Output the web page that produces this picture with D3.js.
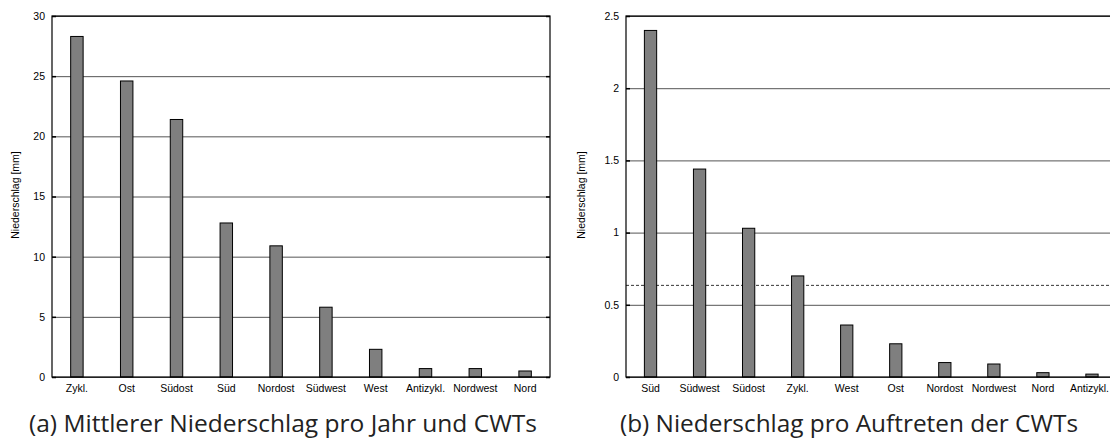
<!DOCTYPE html>
<meta charset="utf-8">
<style>
body { margin: 0; background: #fff; }
.tick text, .ylabel { font: 10.5px "Liberation Sans", Arial, sans-serif; fill: #000; }
.grid line { stroke: #555; stroke-width: 1; }
.grid .domain, .axis .domain { display: none; }
.caption { font: 23px "Open Sans", "DejaVu Sans", sans-serif; fill: #222; }
</style>
<svg width="1110" height="441"></svg>
<script src="https://d3js.org/d3.v7.min.js"></script>
<script>

// (a) mittlerer Niederschlag pro Jahr
var catsA = ["Zykl.", "Ost", "Südost", "Süd", "Nordost", "Südwest", "West", "Antizykl.", "Nordwest", "Nord"];
var valsA = [28.3, 24.6, 21.4, 12.8, 10.9, 5.8, 2.3, 0.7, 0.7, 0.5];
var ticksA = [0, 5, 10, 15, 20, 25, 30];

// (b) Niederschlag pro Auftreten
var catsB = ["Süd", "Südwest", "Südost", "Zykl.", "West", "Ost", "Nordost", "Nordwest", "Nord", "Antizykl."];
var valsB = [2.4, 1.44, 1.03, 0.70, 0.36, 0.23, 0.10, 0.09, 0.03, 0.02];
var ticksB = [0, 0.5, 1, 1.5, 2, 2.5];
var meanB = 0.638;

var svg = d3.select("svg"),
    width = +svg.attr("width");

function panel(cats, vals, ticks, x0, x1, labelX, mean) {
  var g = svg.append("g");
  var top = 16, bottom = 377;

  var x = d3.scaleBand()
      .domain(cats)
      .range([x0, x1])
      .paddingInner(0.75)
      .paddingOuter(0.375);

  var y = d3.scaleLinear()
      .domain([0, d3.max(ticks)])
      .range([bottom, top]);

  // grid lines
  g.append("g")
      .attr("class", "grid")
      .attr("transform", "translate(" + x0 + ",0)")
      .call(d3.axisLeft(y).tickValues(ticks).tickSize(-(x1 - x0)).tickFormat(""));

  // mean line (dashed)
  if (mean != null) {
    g.append("line")
        .attr("x1", x0).attr("x2", x1)
        .attr("y1", y(mean) + 0.5).attr("y2", y(mean) + 0.5)
        .attr("stroke", "#000")
        .attr("stroke-width", 0.8)
        .attr("stroke-dasharray", "3,2");
  }

  // bars
  g.selectAll("rect.bar")
    .data(vals)
    .enter().append("rect")
      .attr("class", "bar")
      .attr("x", function(d, i) { return x(cats[i]); })
      .attr("width", x.bandwidth())
      .attr("y", function(d) { return y(d); })
      .attr("height", function(d) { return bottom - y(d); })
      .attr("fill", "#7f7f7f")
      .attr("stroke", "#000")
      .attr("stroke-width", 1);

  // frame
  g.append("rect")
      .attr("x", x0).attr("y", top)
      .attr("width", x1 - x0).attr("height", bottom - top)
      .attr("fill", "none")
      .attr("stroke", "#000")
      .attr("stroke-width", 1.2);

  // y ticks, inward on both sides
  g.append("g")
      .attr("class", "axis")
      .attr("transform", "translate(" + x0 + ",0)")
      .call(d3.axisLeft(y).tickValues(ticks).tickSize(-4).tickPadding(7).tickFormat(d3.format("")))
      .selectAll("line").attr("stroke-width", 1.5);
  g.append("g")
      .attr("class", "axis")
      .attr("transform", "translate(" + x1 + ",0)")
      .call(d3.axisRight(y).tickValues(ticks).tickSize(-4).tickFormat(""))
      .selectAll("line").attr("stroke-width", 1.5);

  // x labels
  var xa = g.append("g")
      .attr("class", "axis")
      .attr("transform", "translate(0," + bottom + ")")
      .call(d3.axisBottom(x).tickSize(0).tickPadding(8));

  // keep a label at the page edge fully visible
  xa.selectAll(".tick text").each(function(d) {
    var bb = this.getBBox(), cx = x(d) + x.bandwidth() / 2;
    if (cx + bb.width / 2 > width - 1) {
      d3.select(this).attr("text-anchor", "end").attr("x", width - 1 - cx);
    }
  });

  g.append("text")
      .attr("class", "ylabel")
      .attr("transform", "translate(" + labelX + ",195) rotate(-90)")
      .attr("text-anchor", "middle")
      .attr("dy", "0.35em")
      .text("Niederschlag [mm]");
}

panel(catsA, valsA, ticksA, 52, 550, 15, null);
panel(catsB, valsB, ticksB, 626, 1116.5, 581, meanB);

svg.append("text")
    .attr("class", "caption")
    .attr("x", 29).attr("y", 432)
    .attr("textLength", 508)
    .attr("lengthAdjust", "spacingAndGlyphs")
    .text("(a) Mittlerer Niederschlag pro Jahr und CWTs");

svg.append("text")
    .attr("class", "caption")
    .attr("x", 620).attr("y", 432)
    .attr("textLength", 458)
    .attr("lengthAdjust", "spacingAndGlyphs")
    .text("(b) Niederschlag pro Auftreten der CWTs");

</script>
